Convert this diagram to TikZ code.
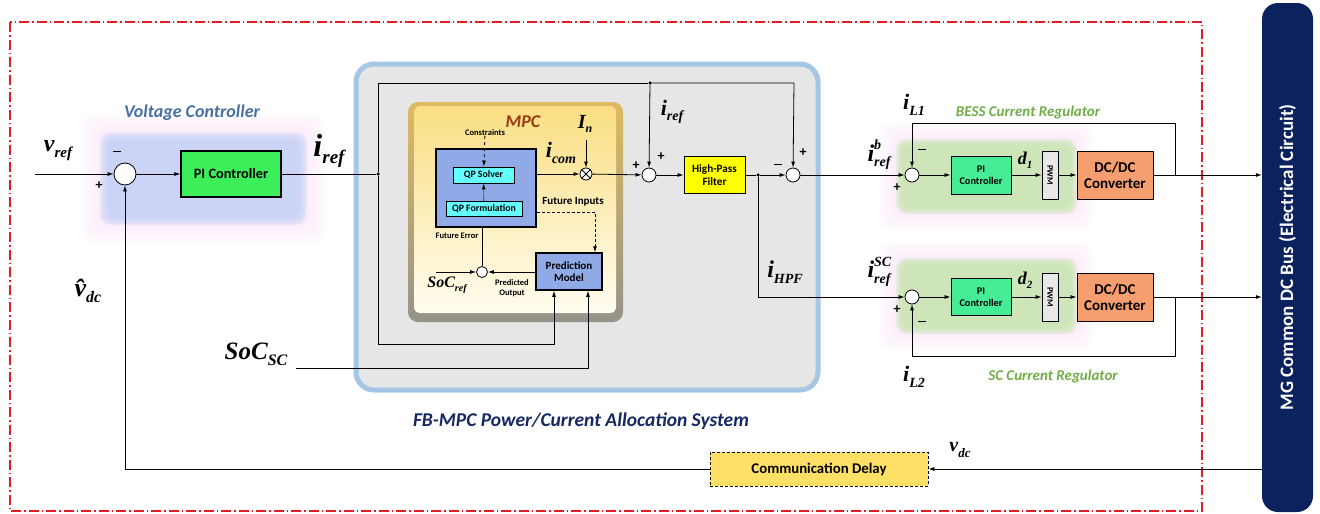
\documentclass[tikz,border=0pt]{standalone}
\usepackage{fontspec}
\setmainfont{Carlito}
\newfontfamily\lbl{Liberation Serif}
\usetikzlibrary{arrows.meta,calc}
\definecolor{busnavy}{RGB}{12,34,94}
\definecolor{vcblue}{RGB}{196,208,246}
\definecolor{glowpink}{RGB}{248,222,246}
\definecolor{vctxt}{RGB}{70,112,162}
\definecolor{fbtxt}{RGB}{22,40,100}
\definecolor{mpctxt}{RGB}{156,58,20}
\definecolor{regtxt}{RGB}{112,173,71}
\definecolor{regfill}{RGB}{200,230,176}
\definecolor{pigreen}{RGB}{60,238,90}
\definecolor{pispring}{RGB}{70,236,150}
\definecolor{qpblue}{RGB}{143,170,230}
\definecolor{qpcyan}{RGB}{102,255,255}
\definecolor{hpfyellow}{RGB}{255,255,0}
\definecolor{dcorange}{RGB}{246,158,110}
\definecolor{cdyellow}{RGB}{255,224,102}
\definecolor{fbgray}{RGB}{230,230,230}
\definecolor{fbedge}{RGB}{165,198,228}
\definecolor{pwmgray}{RGB}{232,232,232}
\definecolor{frame}{RGB}{226,30,36}
\newcommand\ml[4]{{\lbl\bfseries\itshape\fontsize{#1}{#1}\selectfont #3\fontsize{#2}{#2}\selectfont\raisebox{-0.4em}{#4}}}
\newcommand\mlss[5]{{\lbl\bfseries\itshape\fontsize{#1}{#1}\selectfont #3\fontsize{#2}{#2}\selectfont\rlap{\raisebox{0.8em}{#5}}\raisebox{-0.4em}{#4}}}
% soft-edged filled rectangle: x1 y1 x2 y2 colour spread opacity
\newcommand\softrect[7]{%
  \foreach \k in {0,...,5}{%
    \fill[#5, opacity=#7, rounded corners=10pt]
      ({#1-#6+\k*#6/5},{#2-#6+\k*#6/5}) rectangle ({#3+#6-\k*#6/5},{#4+#6-\k*#6/5});}}
\tikzset{
  blk/.style={draw, line width=1.1pt, align=center, font=\bfseries, inner sep=1pt},
  sumc/.style={circle, draw, fill=white, inner sep=0pt, minimum size=14pt, line width=0.8pt},
  dotc/.style={circle, fill=black, inner sep=0pt, minimum size=3.5pt},
  sig/.style={line width=0.8pt},
  arr/.style={line width=0.8pt, -{Latex[length=6pt,width=4pt]}},
  sgn/.style={font=\bfseries\fontsize{14}{14}\selectfont, inner sep=0pt},
  mns/.style={inner sep=0pt},
  tiny/.style={font=\bfseries\fontsize{8.5}{9.5}\selectfont, align=center, inner sep=0pt},
}
\newcommand\mn{\rule[0.5pt]{8pt}{1.4pt}}
\begin{document}
\begin{tikzpicture}[x=1pt,y=-1pt]
\useasboundingbox (0,0) rectangle (1320,514);
% outer frame
\draw[frame, line width=1.2pt, dash pattern=on 10pt off 3pt on 1.5pt off 3pt] (10,22) rectangle (1202,511);
% DC bus
\node[fill=busnavy, rounded corners=16pt, minimum width=51pt, minimum height=509pt, inner sep=0pt] (bus) at (1287.5,257.5) {};
\node[rotate=90, text=white, font=\bfseries\fontsize{19}{19}\selectfont] (bustxt) at (bus.center) {MG Common DC Bus (Electrical Circuit)};
% voltage controller region
\softrect{100}{132}{307}{225}{glowpink}{18}{0.12}
\softrect{108}{140}{299}{217}{vcblue}{8}{0.28}
\node[text=vctxt, font=\bfseries\itshape\fontsize{18}{18}\selectfont] (vct) at (192,113) {Voltage Controller};
% FB-MPC region
\fill[fbgray, rounded corners=18pt] (356,64) rectangle (818,390);
\draw[fbedge, line width=5pt, rounded corners=18pt] (356,64) rectangle (818,390);
\node[text=fbtxt, font=\bfseries\itshape\fontsize{19.5}{19.5}\selectfont] (fbt) at (581,421) {FB-MPC Power/Current Allocation System};
% MPC box
\shade[rounded corners=10pt, top color={rgb,255:red,222;green,186;blue,96}, bottom color={rgb,255:red,150;green,146;blue,138}] (408,102) rectangle (623,322);
\shade[rounded corners=6pt, top color={rgb,255:red,250;green,222;blue,130}, bottom color={rgb,255:red,255;green,253;blue,240}] (414,106) rectangle (616,313);
\node[text=mpctxt, font=\bfseries\itshape\fontsize{18}{18}\selectfont] (mpct) at (523,122) {MPC};
% BESS / SC regulator regions
\softrect{896}{139}{1077}{214}{glowpink}{16}{0.12}
\softrect{903}{146}{1070}{207}{regfill}{7}{0.3}
\softrect{896}{258}{1077}{334}{glowpink}{16}{0.12}
\softrect{903}{265}{1070}{327}{regfill}{7}{0.3}
\node[text=regtxt, font=\bfseries\itshape\fontsize{15}{15}\selectfont] (bt) at (1028,112) {BESS Current Regulator};
\node[text=regtxt, font=\bfseries\itshape\fontsize{15}{15}\selectfont] (st) at (1053,376) {SC Current Regulator};

% ---------- nodes ----------
\coordinate (vin) at (35,174);
\node[sumc, minimum size=22pt] (s1) at (125,174) {};
\node[blk, fill=pigreen, minimum width=100pt, minimum height=46pt, font=\bfseries\fontsize{14.3}{14.3}\selectfont] (pi1) at (231,174) {PI Controller};
\node[dotc] (d1) at (378,174) {};
\coordinate (c1) at (378,83);
\node[dotc] (d2) at (650,83) {};
\coordinate (c2) at (794,83);
\coordinate (c3) at (378,344);
\coordinate (c4) at (554,344);
\coordinate (c5) at (296,368);
\coordinate (c6) at (588,368);
% MPC internals
\node[draw, line width=1.5pt, fill=qpblue, minimum width=100pt, minimum height=78pt] (qp) at (486,188) {};
\node[blk, line width=0.9pt, fill=qpcyan, minimum width=61pt, minimum height=16pt, font=\bfseries\fontsize{9.8}{9.8}\selectfont] (qps) at (483.5,175) {QP Solver};
\node[blk, line width=0.9pt, fill=qpcyan, minimum width=76pt, minimum height=15pt, font=\bfseries\fontsize{9.8}{9.8}\selectfont] (qpf) at (484,208.5) {QP Formulation};
\node[tiny] (cons) at (485,133) {Constraints};
\node[sumc, minimum size=12pt] (mul) at (586,174) {};
\draw[sig] (mul.45) -- (mul.225) (mul.135) -- (mul.315);
\coordinate (inc) at (586,140);
\node[blk, line width=1.5pt, fill=qpblue, minimum width=66pt, minimum height=37pt, font=\bfseries\fontsize{11}{12.5}\selectfont] (pm) at (569,271.5) {Prediction\\Model};
\node[font=\bfseries\fontsize{11}{11}\selectfont, inner sep=0pt] (fi) at (573,202) {Future Inputs};
\coordinate (fic) at (595,212);
\node[tiny] (fe) at (457,236) {Future Error};
\node[sumc, minimum size=11pt] (s0) at (482,272) {};
\coordinate (socin) at (436,272);
\node[tiny] (po) at (512,288) {Predicted\\Output};
% HPF chain
\node[sumc] (s2) at (649,175) {};
\node[blk, line width=1pt, fill=hpfyellow, minimum width=61pt, minimum height=37pt, font=\bfseries\fontsize{11.2}{12.5}\selectfont] (hpf) at (714.5,175) {High-Pass\\Filter};
\node[dotc] (d3) at (758,175) {};
\node[sumc] (s3) at (793,175) {};
\coordinate (c7) at (758,297);
% BESS row
\node[sumc] (sb) at (912,175) {};
\node[blk, line width=1pt, fill=pispring, minimum width=60pt, minimum height=38pt, font=\bfseries\fontsize{10.3}{12}\selectfont] (pib) at (981,175) {PI\\Controller};
\node[draw, line width=0.8pt, fill=pwmgray, minimum width=16pt, minimum height=48pt, inner sep=0pt] (pwmb) at (1050,175) {};
\node[rotate=-90, font=\bfseries\fontsize{8.5}{8.5}\selectfont] (pwmbt) at (pwmb.center) {PWM};
\node[blk, line width=1pt, fill=dcorange, minimum width=76pt, minimum height=48pt, font=\bfseries\fontsize{15}{16}\selectfont] (dcb) at (1115,175) {DC/DC\\Converter};
\coordinate (fb1) at (1175,175);
\coordinate (fb1u) at (1175,123);
\coordinate (fb1l) at (912,123);
% SC row
\node[sumc] (ss) at (912,297) {};
\node[blk, line width=1pt, fill=pispring, minimum width=60pt, minimum height=37pt, font=\bfseries\fontsize{10.3}{12}\selectfont] (pis) at (981,297) {PI\\Controller};
\node[draw, line width=0.8pt, fill=pwmgray, minimum width=16pt, minimum height=48pt, inner sep=0pt] (pwms) at (1050,297) {};
\node[rotate=-90, font=\bfseries\fontsize{8.5}{8.5}\selectfont] (pwmst) at (pwms.center) {PWM};
\node[blk, line width=1pt, fill=dcorange, minimum width=76pt, minimum height=48pt, font=\bfseries\fontsize{15}{16}\selectfont] (dcs) at (1115,297) {DC/DC\\Converter};
\coordinate (fb2) at (1175,297);
\coordinate (fb2d) at (1175,356);
\coordinate (fb2l) at (912,356);
% communication delay
\node[draw, densely dashed, line width=0.8pt, fill=cdyellow, minimum width=218pt, minimum height=34pt, font=\bfseries\fontsize{14.8}{14.8}\selectfont] (cd) at (819,469) {Communication Delay};
\coordinate (fbb) at (125,469);

% ---------- connectors ----------
\draw[arr] (vin) -- (s1);
\draw[arr] (s1) -- (pi1);
\draw[sig] (pi1) -- (d1);
\draw[sig] (d1) -- (c1) -- (d2);
\draw[arr] (d2) -- (c2) -- (s3);
\draw[arr] (d2) -- (s2);
\draw[arr] (d1) -- (c3) -- (c4) -- (pm.south -| c4);
\draw[arr] (c5) -- (c6) -- (pm.south -| c6);
\draw[arr, dashed] (cons) -- (qps);
\draw[arr, densely dotted] (qpf) -- (qps);
\draw[arr] (qp.east |- mul) -- (mul);
\draw[arr] (inc) -- (mul);
\draw[arr] (mul) -- (s2);
\draw[arr, densely dashed] (qp.east |- fic) -- (fic) -- (pm.north -| fic);
\draw[sig] (qp.south -| s0) -- (s0);
\draw[arr] (socin) -- (s0);
\draw[arr] (pm.west |- s0) -- (s0);
\draw[arr] (s2) -- (hpf);
\draw[sig] (hpf) -- (d3);
\draw[arr] (d3) -- (s3);
\draw[arr] (s3) -- (sb);
\draw[arr] (d3) -- (c7) -- (ss);
\draw[arr] (sb) -- (pib);
\draw[arr] (pib) -- (pwmb);
\draw[arr] (pwmb) -- (dcb);
\draw[arr] (dcb) -- (bus.west |- dcb);
\draw[arr] (fb1) -- (fb1u) -- (fb1l) -- (sb);
\draw[arr] (ss) -- (pis);
\draw[arr] (pis) -- (pwms);
\draw[arr] (pwms) -- (dcs);
\draw[arr] (dcs) -- (bus.west |- dcs);
\draw[arr] (fb2) -- (fb2d) -- (fb2l) -- (ss);
\draw[arr] (bus.west |- cd) -- (cd);
\draw[arr] (cd) -- (fbb) -- (s1);

% ---------- signs ----------
\node[mns] (m1) at (117,152) {\mn};
\node[sgn] (p1) at (99,186) {+};
\node[sgn] (p2a) at (636,166) {+};
\node[sgn] (p2b) at (661,157) {+};
\node[mns] (m3) at (778,165) {\mn};
\node[sgn] (p3) at (803,153) {+};
\node[mns] (mb) at (922,150) {\mn};
\node[sgn] (pb) at (897,188) {+};
\node[sgn] (ps) at (897,310) {+};
\node[mns] (ms) at (922,322) {\mn};

% ---------- signal labels ----------
\node (lvref) at (58,151) {\ml{24}{15}{v}{ref}};
\node (lvhat) at (88,291) {\ml{26}{16}{\^{v}}{dc}};
\node (liref) at (329,151) {\ml{32}{19}{i}{ref}};
\node (liref2) at (672,112) {\ml{22}{14}{i}{ref}};
\node (licom) at (561,153) {\ml{22}{14}{i}{com}};
\node (lin) at (585,124) {\ml{20}{12}{I}{n}};
\node (lsocr) at (447,285) {\ml{16}{10}{SoC}{ref}};
\node (lsocs) at (256,354) {\ml{25}{16}{SoC}{SC}};
\node (lihpf) at (785,272) {\ml{24}{14}{i}{HPF}};
\node (lirb) at (879,155) {\mlss{24}{14}{i}{ref}{b}};
\node (lirs) at (879,272) {\mlss{24}{14}{i}{ref}{SC}};
\node (lil1) at (914,105) {\ml{22}{14}{i}{L1}};
\node (lil2) at (914,377) {\ml{22}{14}{i}{L2}};
\node (ld1) at (1025,160) {\ml{18}{11}{d}{1}};
\node (ld2) at (1025,280) {\ml{18}{11}{d}{2}};
\node (lvdc) at (960,450) {\ml{20}{13}{v}{dc}};
\end{tikzpicture}
\end{document}
